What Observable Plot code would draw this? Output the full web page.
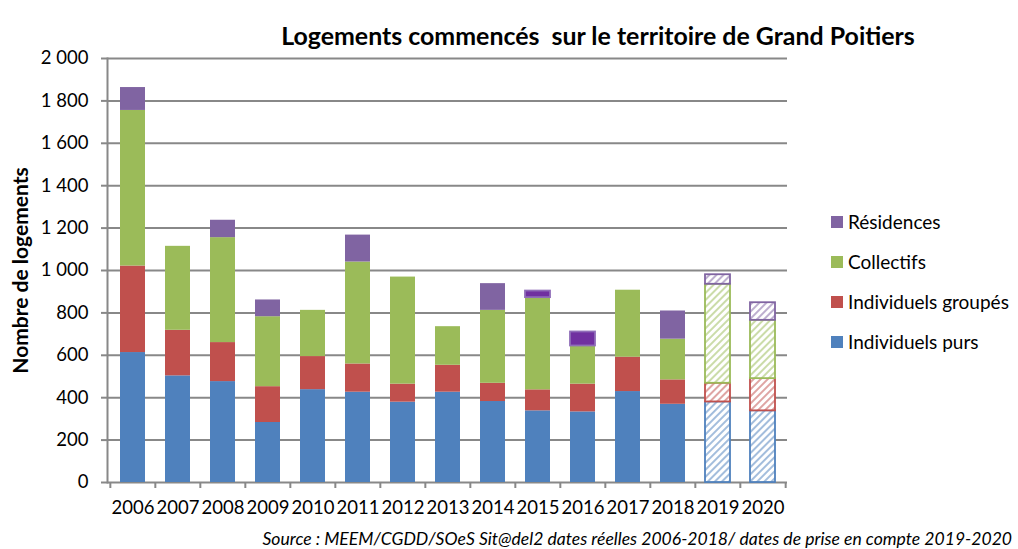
<!DOCTYPE html>
<html><head><meta charset="utf-8">
<script src="https://cdn.jsdelivr.net/npm/d3@7"></script>
<script src="https://cdn.jsdelivr.net/npm/@observablehq/plot@0.6"></script>
<style>
body{margin:0;background:#fff;font-family:Lato,sans-serif;color:#000;}
#wrap{position:relative;width:1018px;height:549px;overflow:hidden;}
#chart{position:absolute;left:0;top:0;}
#title{position:absolute;left:0;width:1196px;text-align:center;font-weight:bold;white-space:nowrap;line-height:1;}
#source{position:absolute;right:6px;font-style:italic;white-space:nowrap;line-height:1;}
.leg{position:absolute;left:831px;line-height:1;white-space:nowrap;}
.leg span.sw{position:absolute;left:0;width:12px;height:12px;}
.leg span.tx{position:absolute;left:17px;}
</style></head><body>
<svg width="0" height="0" style="position:absolute"><defs>
<pattern id="hatch-blue" patternUnits="userSpaceOnUse" width="5" height="5" patternTransform="rotate(45)"><rect width="5" height="5" fill="#fff"/><line x1="1" y1="0" x2="1" y2="5" stroke="#4F81BD" stroke-width="1.3" stroke-opacity="0.8"/></pattern>
<pattern id="hatch-red" patternUnits="userSpaceOnUse" width="5" height="5" patternTransform="rotate(45)"><rect width="5" height="5" fill="#fff"/><line x1="1" y1="0" x2="1" y2="5" stroke="#C0504D" stroke-width="1.3" stroke-opacity="0.8"/></pattern>
<pattern id="hatch-green" patternUnits="userSpaceOnUse" width="5" height="5" patternTransform="rotate(45)"><rect width="5" height="5" fill="#fff"/><line x1="1" y1="0" x2="1" y2="5" stroke="#9BBB59" stroke-width="1.3" stroke-opacity="0.8"/></pattern>
<pattern id="hatch-purple" patternUnits="userSpaceOnUse" width="5" height="5" patternTransform="rotate(45)"><rect width="5" height="5" fill="#fff"/><line x1="1" y1="0" x2="1" y2="5" stroke="#8064A2" stroke-width="1.3" stroke-opacity="0.8"/></pattern>
</defs></svg>
<div id="wrap">
  <div id="chart"></div>
  <div id="title">Logements commencés&nbsp; sur le territoire de Grand Poitiers</div>
  <div id="legend"></div>
  <div id="source">Source : MEEM/CGDD/SOeS Sit@del2 dates réelles 2006-2018/ dates de prise en compte 2019-2020</div>
</div>
<script>
// ---- data ----
const years = ["2006","2007","2008","2009","2010","2011","2012","2013","2014","2015","2016","2017","2018","2019","2020"];
const types = ["Individuels purs","Individuels groupés","Collectifs","Résidences"];
const individuelsPurs    = [613, 503, 476, 283, 438, 426, 379, 426, 382, 338, 333, 429, 369, 380, 338];
const individuelsGroupes = [408, 215, 184, 169, 156, 133,  85, 127,  86,  99, 131, 162, 115,  88, 152];
const collectifs         = [734, 396, 495, 330, 218, 481, 505, 182, 344, 435, 180, 316, 192, 467, 275];
const residences         = [108,   0,  82,  79,   0, 127,   0,   0, 126,  31,  66,   0, 133,  45,  83];
const estimatedYears = ["2019","2020"];          // dates de prise en compte (hachurés)
const darkResidenceYears = ["2015","2016"];       // résidences en violet foncé
const yTicks = [0,200,400,600,800,1000,1200,1400,1600,1800,2000];

const colors = {"Individuels purs":"#4F81BD","Individuels groupés":"#C0504D","Collectifs":"#9BBB59","Résidences":"#8064A2"};
const hatch = {"Individuels purs":"url(#hatch-blue)","Individuels groupés":"url(#hatch-red)","Collectifs":"url(#hatch-green)","Résidences":"url(#hatch-purple)"};
const series = {"Individuels purs":individuelsPurs,"Individuels groupés":individuelsGroupes,"Collectifs":collectifs,"Résidences":residences};

const rows = [];
types.forEach(t => years.forEach((y,i) => {
  const v = series[t][i];
  if (!v) return;
  let fill = colors[t], stroke = "none";
  if (estimatedYears.includes(y)) { fill = hatch[t]; stroke = colors[t]; }
  else if (t === "Résidences" && darkResidenceYears.includes(y)) { fill = "#7030A0"; stroke = "#8F6DB8"; }
  rows.push({year: y, type: t, value: v, fill, stroke});
}));

const fmt = d => d3.format(",")(d).replace(/,/g, " ");
const plotLeft = 107, plotRight = 787;
const step = (plotRight - plotLeft) / years.length;
const axisColor = "#888888";

const chart = Plot.plot({
  width: 1018, height: 549,
  marginLeft: plotLeft, marginRight: 1018 - plotRight, marginTop: 58, marginBottom: 67,
  style: {fontFamily: "Lato, sans-serif", fontSize: "18px", color: "#000", background: "transparent", overflow: "visible"},
  x: {domain: years, paddingInner: 0.45, paddingOuter: 0.225, label: null},
  y: {domain: [0, 2000], label: null},
  color: {type: "identity"},
  marks: [
    Plot.gridY(yTicks, {stroke: axisColor, strokeOpacity: 1, strokeWidth: 2}),
    Plot.barY(rows, Plot.stackY({x: "year", y: "value", z: "type", order: types, fill: "fill", stroke: "stroke", strokeWidth: 1.8})),
    Plot.frame({anchor: "left", stroke: axisColor, strokeWidth: 2}),
    Plot.axisY(yTicks, {tickSize: 6, tickPadding: 13, stroke: axisColor, strokeWidth: 2, fill: "#000", fontSize: 18.5, tickFormat: fmt, label: null}),
    Plot.axisX(years, {tickSize: 6, dx: -step/2, stroke: axisColor, strokeWidth: 2, tickFormat: () => "", label: null}),
    Plot.axisX(["2020"], {tickSize: 6, dx: step/2, stroke: axisColor, strokeWidth: 2, tickFormat: () => "", label: null}),
    Plot.axisX(years, {tickSize: 0, tickPadding: 18, fontSize: 18.5, fill: "#000", label: null}),
    Plot.text(["Nombre de logements"], {frameAnchor: "left", textAnchor: "middle", dx: -86, rotate: -90, fontSize: 21, fontWeight: "bold", fill: "#000"})
  ]
});
document.getElementById("chart").appendChild(chart);

// fit helper for HTML texts
const ctx = document.createElement("canvas").getContext("2d");
function fit(el, target, weight, style) {
  ctx.font = `${style} ${weight} 100px Lato`;
  const w = ctx.measureText(el.textContent).width;
  el.style.fontSize = (100 * target / w).toFixed(2) + "px";
}
const title = document.getElementById("title");
fit(title, 634, "bold", "normal");
title.style.top = "23px";
const source = document.getElementById("source");
fit(source, 750, "normal", "italic");
source.style.top = "530px";

// legend
const legend = document.getElementById("legend");
const legItems = ["Résidences","Collectifs","Individuels groupés","Individuels purs"];
const legY = [216, 256, 296, 336];
legItems.forEach((t, i) => {
  const d = document.createElement("div");
  d.className = "leg";
  d.style.top = legY[i] + "px";
  d.style.fontSize = "19px";
  d.innerHTML = `<span class="sw" style="background:${colors[t]};top:0"></span><span class="tx" style="top:-4px">${t}</span>`;
  legend.appendChild(d);
});
</script>
</body></html>
